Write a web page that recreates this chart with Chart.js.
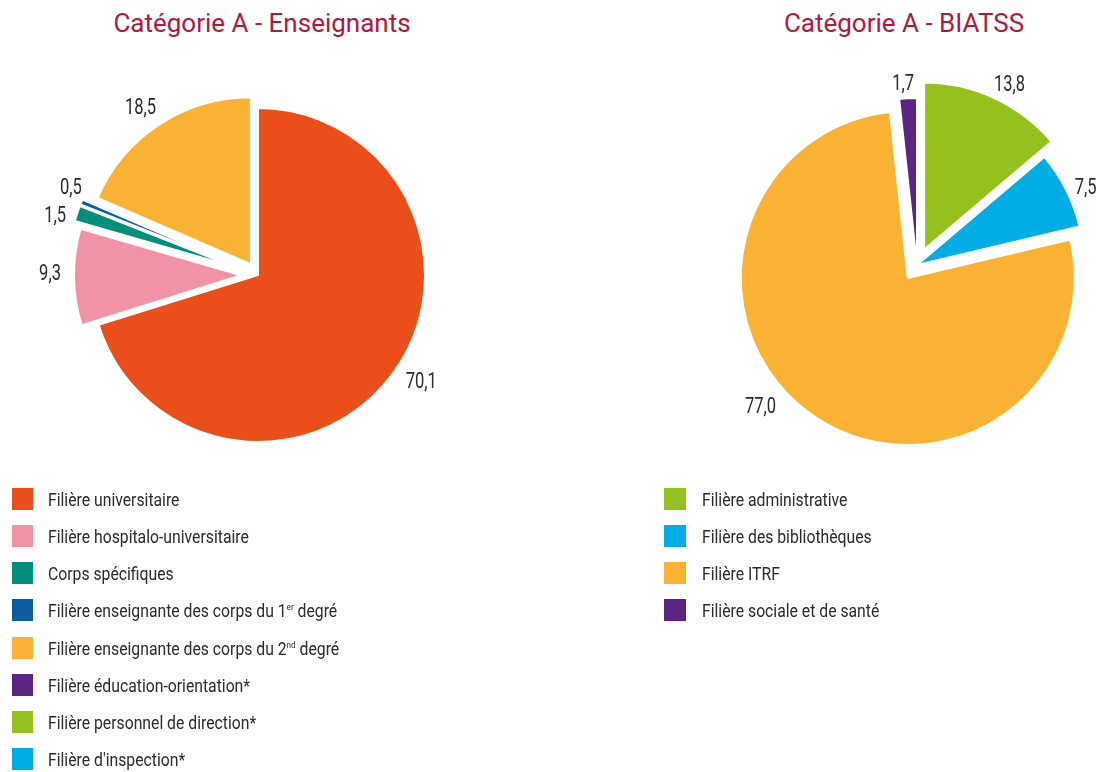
<!DOCTYPE html>
<html lang="fr">
<head>
<meta charset="utf-8">
<title>Catégorie A</title>
<script src="https://cdn.jsdelivr.net/npm/chart.js@4.4.1/dist/chart.umd.min.js"></script>
<style>
  html, body { margin: 0; padding: 0; background: #fff; width: 1101px; height: 772px; overflow: hidden; }
  .title {
    position: absolute; top: 8px; width: 380px; text-align: center;
    font-family: Roboto, sans-serif; font-size: 26px; line-height: 30px; color: #b2183f;
  }
  canvas { position: absolute; top: 0; }
  .legend {
    position: absolute; top: 488px; margin: 0; padding: 0; list-style: none;
    font-family: Roboto, sans-serif; font-size: 17.5px; color: #2b2b2b;
  }
  .legend li { height: 37.15px; display: flex; align-items: flex-start; white-space: nowrap; }
  .legend .sw { width: 21px; height: 22px; margin-right: 15px; flex: none; }
  /* la police d'origine est étroite : on resserre Roboto */
  .legend .tx { line-height: 22px; padding-top: 1px; display: inline-block; transform: scaleX(0.9); transform-origin: 0 0; }
  .legend sup { font-size: 9px; vertical-align: 7px; line-height: 0; }
  #legend-bia .sw { width: 22px; margin-right: 16px; }
</style>
</head>
<body>
<div class="title" style="left:72px">Catégorie A - Enseignants</div>
<div class="title" style="left:714px">Catégorie A - BIATSS</div>
<canvas id="chart-ens" width="516" height="550" style="left:0"></canvas>
<canvas id="chart-bia" width="368" height="530" style="left:733px"></canvas>
<ul class="legend" id="legend-ens" style="left:12px"></ul>
<ul class="legend" id="legend-bia" style="left:664px"></ul>
<script>
// Catégorie A - Enseignants (en %)
const ensLabels = [
  "Filière universitaire",
  "Filière hospitalo-universitaire",
  "Corps spécifiques",
  "Filière enseignante des corps du 1er degré",
  "Filière enseignante des corps du 2nd degré",
  "Filière éducation-orientation*",
  "Filière personnel de direction*",
  "Filière d'inspection*"
];
const ensValues = [70.1, 9.3, 1.5, 0.5, 18.5, 0, 0, 0];
const ensColors = ["#e94e1b", "#f193a6", "#008f7b", "#095da1", "#f9b233", "#5c2483", "#95c11f", "#00aee6"];

// Catégorie A - BIATSS (en %)
const biaLabels = [
  "Filière administrative",
  "Filière des bibliothèques",
  "Filière ITRF",
  "Filière sociale et de santé"
];
const biaValues = [13.8, 7.5, 77.0, 1.7];
const biaColors = ["#95c11f", "#00aee6", "#f9b233", "#5c2483"];

const PIE_RADIUS = 167;
const LABEL_SIZE = 22;
const LABEL_SQUEEZE = 0.75;

// pulls each slice out of the pie by its own distance (dataset.explode)
const explodePlugin = {
  id: "explode",
  beforeDatasetsDraw(chart) {
    const area = chart.chartArea;
    const cx = (area.left + area.right) / 2;
    const cy = (area.top + area.bottom) / 2;
    chart.data.datasets.forEach((ds, i) => {
      const meta = chart.getDatasetMeta(i);
      meta.data.forEach((arc, j) => {
        const d = (ds.explode && ds.explode[j]) || 0;
        const a = (arc.startAngle + arc.endAngle) / 2;
        arc.x = cx + Math.cos(a) * d;
        arc.y = cy + Math.sin(a) * d;
      });
    });
  }
};

// value written outside each slice, "70,1" style
const valueLabelPlugin = {
  id: "valueLabels",
  afterDatasetsDraw(chart) {
    const ctx = chart.ctx;
    const area = chart.chartArea;
    const cx = (area.left + area.right) / 2;
    const cy = (area.top + area.bottom) / 2;
    ctx.save();
    ctx.font = LABEL_SIZE + "px Roboto, sans-serif";
    ctx.fillStyle = "#2b2b2b";
    ctx.textAlign = "center";
    ctx.textBaseline = "alphabetic";
    chart.data.datasets.forEach((ds, i) => {
      const meta = chart.getDatasetMeta(i);
      meta.data.forEach((arc, j) => {
        const v = ds.data[j];
        if (!v) return;
        const text = v.toFixed(1).replace(".", ",");
        const nudge = ((ds.labelNudge && ds.labelNudge[j]) || 0) * Math.PI / 180;
        const pad = ds.labelPad ? ds.labelPad[j] : 10;
        const a = (arc.startAngle + arc.endAngle) / 2 + nudge;
        const w = ctx.measureText(text).width * LABEL_SQUEEZE;
        const h = LABEL_SIZE * 0.71;
        const ext = Math.abs(Math.cos(a)) * w / 2 + Math.abs(Math.sin(a)) * h / 2;
        const dist = arc.outerRadius + ((ds.explode && ds.explode[j]) || 0) + pad + ext;
        const x = cx + Math.cos(a) * dist;
        const y = cy + Math.sin(a) * dist;
        ctx.save();
        ctx.translate(x, y + h / 2);
        ctx.scale(LABEL_SQUEEZE, 1);
        ctx.fillText(text, 0, 0);
        ctx.restore();
      });
    });
    ctx.restore();
  }
};

function makePie(id, labels, values, colors, explode, nudge, pad) {
  return new Chart(document.getElementById(id), {
    type: "pie",
    data: {
      labels: labels,
      datasets: [{
        data: values,
        backgroundColor: colors,
        borderColor: "#ffffff",
        borderWidth: 2,
        explode: explode,
        labelNudge: nudge,
        labelPad: pad
      }]
    },
    options: {
      responsive: false,
      animation: false,
      events: [],
      radius: PIE_RADIUS,
      layout: { padding: 0 },
      plugins: {
        legend: { display: false },
        tooltip: { enabled: false }
      }
    },
    plugins: [explodePlugin, valueLabelPlugin]
  });
}

function buildLegend(id, labels, colors) {
  const ul = document.getElementById(id);
  labels.forEach((label, i) => {
    const li = document.createElement("li");
    const sw = document.createElement("span");
    sw.className = "sw";
    sw.style.background = colors[i];
    const tx = document.createElement("span");
    tx.className = "tx";
    // 1er / 2nd en exposant
    tx.innerHTML = label.replace(/(\d)(er|nd) /, "$1<sup>$2</sup> ");
    li.appendChild(sw);
    li.appendChild(tx);
    ul.appendChild(li);
  });
}

makePie("chart-ens", ensLabels, ensValues, ensColors,
  [0, 17, 24, 24, 13, 0, 0, 0],
  [-3.6, 1.4, -2.2, 3, -1.5, 0, 0, 0],
  [9.7, 13, 8, 3, 10.5, 0, 0, 0]);
makePie("chart-bia", biaLabels, biaValues, biaColors,
  [17, 0, 16, 0],
  [2.1, 1.9, 12.9, -1.3],
  [6.4, 5.8, 10.3, 7.3]);

buildLegend("legend-ens", ensLabels, ensColors);
buildLegend("legend-bia", biaLabels, biaColors);
</script>
</body>
</html>
